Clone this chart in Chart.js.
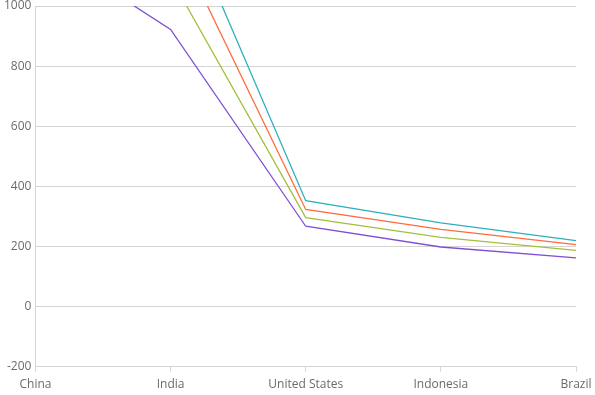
<!DOCTYPE html>
<html>
<head>
<meta charset="utf-8">
<script src="https://cdn.jsdelivr.net/npm/chart.js@4"></script>
<style>
  html, body { margin: 0; padding: 0; background: #fff; }
  #wrap { width: 595px; height: 395px; position: relative; }
</style>
</head>
<body>
<div id="wrap"><canvas id="c"></canvas></div>
<script>
const categories = ["China", "India", "United States", "Indonesia", "Brazil"];
const seriesA = [1212, 922, 267, 198, 162];
const seriesB = [1290, 1095, 296, 230, 187];
const seriesC = [1345, 1254, 323, 257, 206];
const seriesD = [1410, 1399, 352, 278, 219];
const yTicks = [-200, 0, 200, 400, 600, 800, 1000];

const colors = ["#7e4fd3", "#a3c03b", "#ff6b3d", "#2db0bd"];
const all = [seriesA, seriesB, seriesC, seriesD];

new Chart(document.getElementById("c"), {
  type: "line",
  data: {
    labels: categories,
    datasets: all.map((d, i) => ({
      data: d,
      borderColor: colors[i],
      backgroundColor: colors[i],
      borderWidth: 1.3,
      pointRadius: 0,
      tension: 0,
      fill: false
    }))
  },
  options: {
    responsive: true,
    maintainAspectRatio: false,
    animation: false,
    layout: { padding: { top: 0, right: 0, left: 0, bottom: -3 } },
    plugins: { legend: { display: false }, tooltip: { enabled: false } },
    scales: {
      x: {
        offset: false,
        afterFit: (s) => { s.paddingRight = 19; },
        grid: { display: true, drawOnChartArea: false, tickLength: 5, color: "#d4d4d4" },
        border: { color: "#d4d4d4" },
        ticks: { color: "#6b6b6b", font: { family: "Open Sans", size: 12 }, padding: 6, maxRotation: 0, autoSkip: false }
      },
      y: {
        min: yTicks[0],
        max: yTicks[yTicks.length - 1],
        afterBuildTicks: (axis) => { axis.ticks = yTicks.map(v => ({ value: v })); },
        afterFit: (s) => { s.paddingTop = 6; },
        grid: { color: "#d4d4d4", drawTicks: false },
        border: { color: "#d4d4d4" },
        ticks: { color: "#6b6b6b", font: { family: "Open Sans", size: 12 }, padding: 4, callback: (v) => String(v) }
      }
    }
  }
});
</script>
</body>
</html>
